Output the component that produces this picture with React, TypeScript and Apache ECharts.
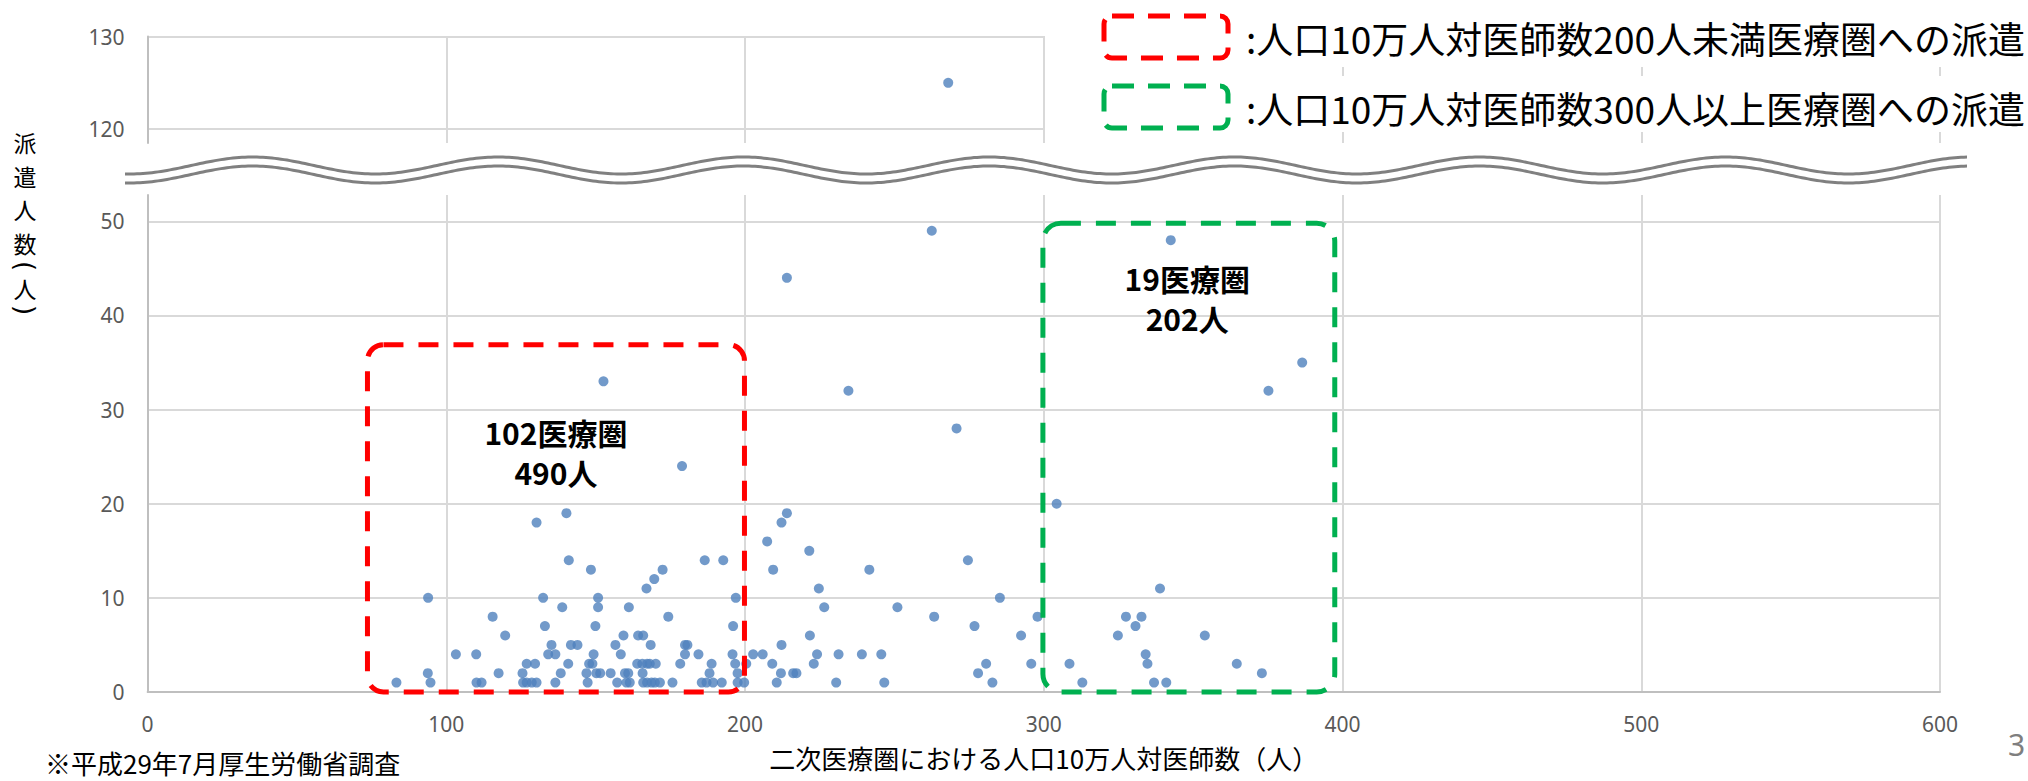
import React, { useEffect, useRef } from "react";
import * as echarts from "echarts";

// ---- axis ticks ----
const X_TICKS = [0, 100, 200, 300, 400, 500, 600];
const LOWER_Y_TICKS = [0, 10, 20, 30, 40, 50];
const UPPER_Y_TICKS = [120, 130];

// ---- data: 派遣人数 (y) and, for each level, the 人口10万人対医師数 (x) of the regions ----
const dispatchLevels = [1, 2, 3, 4, 5, 6, 7, 8, 9, 10, 11, 12, 13, 14, 15, 16, 18, 19, 20, 24, 28, 32, 33, 35, 44, 48, 49, 125];
const doctorRatios: number[][] = [
  [83.3, 94.7, 110.1, 111.8, 125.7, 126.9, 128.6, 130.2, 136.5, 147.3, 157.2, 160.3, 161.4, 165.9, 167.2, 168.7, 169.8, 171.5, 175.7, 185.5, 187.1, 189.3, 192.2, 197.5, 199.7, 210.6, 230.5, 246.6, 282.8, 312.9, 336.9, 341],
  [93.8, 117.5, 125.5, 138.3, 146.9, 150.2, 151.5, 155, 159.8, 160.9, 165.7, 188.1, 197.5, 212, 216.1, 217.2, 278, 373],
  [126.9, 129.7, 140.8, 147.8, 148.9, 163.9, 165.6, 167.2, 168.1, 170.1, 178.3, 188.8, 196.7, 200.4, 209.1, 223, 280.7, 295.8, 308.6, 334.7, 364.6],
  [103.2, 110, 134.1, 136.5, 149.3, 158.4, 179.9, 184.4, 195.8, 202.7, 205.9, 224.1, 231.3, 239.1, 245.6, 334.1],
  [135.2, 141.7, 143.9, 156.6, 168.4, 179.9, 180.7, 212.2],
  [119.7, 159.3, 164.2, 165.9, 221.7, 292.4, 324.8, 353.9],
  [133, 149.9, 196, 276.8, 330.7],
  [115.5, 174.3, 263.3, 297.9, 327.5, 332.7],
  [138.8, 150.8, 161.1, 226.5, 251],
  [93.9, 132.4, 150.8, 196.9, 285.3],
  [167, 224.7, 338.9],
  [169.6],
  [148.4, 172.4, 209.4, 241.6],
  [141, 186.5, 192.7, 274.6],
  [221.5],
  [207.4],
  [130.2, 212.2],
  [140.2, 214],
  [304.3],
  [178.9],
  [270.8],
  [234.6, 375.2],
  [152.6],
  [386.5],
  [214],
  [342.5],
  [262.5],
  [268],
];

// ---- highlighted ranges (data coordinates) ----
const RED_BOX = { x: [73.6, 199.8], y: [0, 36.9] };
const GREEN_BOX = { x: [299.7, 397.4], y: [0, 49.8] };
const RED_LABEL = { x: 136.7, y: 25.5, text: "102医療圏\n490人" };
const GREEN_LABEL = { x: 348, y: 41.9, text: "19医療圏\n202人" };

const LEGEND_ITEMS = [
  { color: "#FF0000", text: ":人口10万人対医師数200人未満医療圏への派遣" },
  { color: "#00B050", text: ":人口10万人対医師数300人以上医療圏への派遣" },
];

const X_TITLE = "二次医療圏における人口10万人対医師数（人）";
// 派遣人数（人） written vertically; brackets drawn as rotated parentheses
const Y_TITLE_CHARS = ["派", "遣", "人", "数", "(", "人", ")"];
const SOURCE_NOTE = "※平成29年7月厚生労働省調査";
const PAGE_NO = "3";

const CJK = '"Noto Sans CJK JP", "Noto Sans", sans-serif';
const NUM = '"Noto Sans", "DejaVu Sans", sans-serif';
const GRID_COLOR = "#d9d9d9";
const AXIS_COLOR = "#bfbfbf";
const LABEL_COLOR = "#595959";
const DOT = "#4F81BD";

const W = 2028;
const H = 781;

export default function App() {
  const ref = useRef<HTMLDivElement>(null);

  useEffect(() => {
    if (!ref.current) return;
    const chart = echarts.init(ref.current, undefined, { renderer: "svg", width: W, height: H });

    const lowData: number[][] = [];
    const highData: number[][] = [];
    dispatchLevels.forEach((lv, i) => {
      doctorRatios[i].forEach((x) => (lv > 100 ? highData : lowData).push([x, lv]));
    });

    const upperMin = 118.5;
    const upperStep = 0.5;
    const upperMax = UPPER_Y_TICKS[UPPER_Y_TICKS.length - 1];
    const nUpper = Math.round((upperMax - upperMin) / upperStep) + 1;
    const upperColors: string[] = [];
    for (let i = 0; i < nUpper; i++) {
      const v = upperMin + i * upperStep;
      upperColors.push(UPPER_Y_TICKS.includes(v) ? GRID_COLOR : "rgba(0,0,0,0)");
    }

    const xCommon = {
      type: "value" as const,
      min: X_TICKS[0],
      max: X_TICKS[X_TICKS.length - 1],
      interval: X_TICKS[1] - X_TICKS[0],
      axisTick: { show: false },
      splitLine: { show: true, lineStyle: { color: GRID_COLOR, width: 2 } },
    };

    chart.setOption({
      animation: false,
      backgroundColor: "#ffffff",
      grid: [
        { left: 147.6, right: 88, top: 36.5, height: 106.5, containLabel: false, outerBoundsMode: "none" },
        { left: 147.6, right: 88, top: 195, height: 497, containLabel: false, outerBoundsMode: "none" },
      ],
      xAxis: [
        {
          ...xCommon,
          gridIndex: 0,
          axisLabel: { show: false },
          axisLine: { show: false },
        },
        {
          ...xCommon,
          gridIndex: 1,
          axisLine: { show: true, lineStyle: { color: AXIS_COLOR, width: 2 } },
          axisLabel: { color: LABEL_COLOR, fontSize: 21, margin: 21, fontFamily: NUM },
          name: X_TITLE,
          nameLocation: "middle",
          nameGap: 52,
          nameTextStyle: { color: "#000", fontSize: 26, fontFamily: CJK },
        },
      ],
      yAxis: [
        {
          type: "value",
          gridIndex: 0,
          min: upperMin,
          max: upperMax,
          interval: upperStep,
          axisTick: { show: false },
          axisLine: { show: true, lineStyle: { color: AXIS_COLOR, width: 2 } },
          axisLabel: {
            color: LABEL_COLOR,
            fontSize: 21,
            margin: 23,
            fontFamily: NUM,
            formatter: (v: number) => (UPPER_Y_TICKS.includes(v) ? String(v) : ""),
          },
          splitLine: { show: true, showMinLine: true, showMaxLine: true, lineStyle: { color: upperColors, width: 2 } },
        },
        {
          type: "value",
          gridIndex: 1,
          min: LOWER_Y_TICKS[0],
          max: 52.8,
          interval: LOWER_Y_TICKS[1] - LOWER_Y_TICKS[0],
          axisTick: { show: false },
          axisLine: { show: true, lineStyle: { color: AXIS_COLOR, width: 2 } },
          axisLabel: {
            color: LABEL_COLOR,
            fontSize: 21,
            margin: 23,
            fontFamily: NUM,
            showMaxLabel: false,
            formatter: (v: number) => (LOWER_Y_TICKS.includes(v) ? String(v) : ""),
          },
          splitLine: { show: true, showMaxLine: false, lineStyle: { color: GRID_COLOR, width: 2 } },
        },
      ],
      series: [
        {
          type: "scatter",
          xAxisIndex: 0,
          yAxisIndex: 0,
          data: highData,
          symbolSize: 10,
          itemStyle: { color: DOT },
          z: 3,
        },
        {
          type: "scatter",
          xAxisIndex: 1,
          yAxisIndex: 1,
          data: lowData,
          symbolSize: 10,
          itemStyle: { color: DOT },
          z: 3,
        },
      ],
    });

    const toPx = (p: number[]) => chart.convertToPixel({ gridIndex: 1 }, p) as number[];

    const boxGraphic = (b: { x: number[]; y: number[] }, color: string, r: number) => {
      const p0 = toPx([b.x[0], b.y[1]]);
      const p1 = toPx([b.x[1], b.y[0]]);
      return {
        type: "rect",
        z: 20,
        shape: { x: p0[0], y: p0[1], width: p1[0] - p0[0], height: p1[1] - p0[1], r },
        style: { fill: "none", stroke: color, lineWidth: 5, lineDash: [20, 15] },
      };
    };
    const labelGraphic = (l: { x: number; y: number; text: string }) => {
      const p = toPx([l.x, l.y]);
      return {
        type: "text",
        z: 21,
        x: p[0],
        y: p[1],
        style: {
          text: l.text,
          fill: "#000",
          font: `bold 30px ${CJK}`,
          align: "center",
          verticalAlign: "middle",
          lineHeight: 40,
        },
      };
    };

    // wavy break lines
    const wave = (c: number) => {
      const pts: number[][] = [];
      for (let x = 125; x <= 1968; x += 3) {
        pts.push([x, c - 8.5 * Math.cos((2 * Math.PI * (x - 252.5)) / 245.5)]);
      }
      return {
        type: "polyline",
        z: 30,
        shape: { points: pts, smooth: 0 },
        style: { fill: "none", stroke: "#808080", lineWidth: 3 },
      };
    };

    const legendGraphics: any[] = [
      { type: "rect", z: 40, shape: { x: 1045, y: 0, width: W - 1045, height: 67 }, style: { fill: "#fff" } },
      { type: "rect", z: 40, shape: { x: 1045, y: 76, width: W - 1045, height: 56 }, style: { fill: "#fff" } },
    ];
    LEGEND_ITEMS.forEach((it, i) => {
      const top = i === 0 ? 16 : 86;
      legendGraphics.push({
        type: "rect",
        z: 41,
        shape: { x: 1104, y: top, width: 124, height: 42, r: 8 },
        style: { fill: "none", stroke: it.color, lineWidth: 5, lineDash: [22, 14] },
      });
      legendGraphics.push({
        type: "text",
        z: 41,
        x: 1246,
        y: top + 22,
        style: { text: it.text, fill: "#000", font: `37px ${CJK}`, align: "left", verticalAlign: "middle" },
      });
    });

    // vertical y-axis title, one character per element
    const yTitleY = [142, 175.5, 209, 242.5, 266, 288, 310];
    const yTitle = Y_TITLE_CHARS.map((ch, i) => {
      const isBracket = ch === "(" || ch === ")";
      return {
        type: "text",
        z: 20,
        x: 25,
        y: yTitleY[i],
        rotation: isBracket ? -Math.PI / 2 : 0,
        style: {
          text: ch,
          fill: "#000",
          font: isBracket ? `26px "DejaVu Sans", sans-serif` : `23px ${CJK}`,
          align: "center",
          verticalAlign: "middle",
        },
      };
    });

    chart.setOption({
      graphic: [
        boxGraphic(RED_BOX, "#FF0000", 16),
        boxGraphic(GREEN_BOX, "#00B050", 18),
        labelGraphic(RED_LABEL),
        labelGraphic(GREEN_LABEL),
        wave(165.5),
        wave(174.5),
        ...legendGraphics,
        ...yTitle,
        {
          type: "text",
          z: 20,
          x: 45,
          y: 762,
          style: { text: SOURCE_NOTE, fill: "#000", font: `26px ${CJK}`, align: "left", verticalAlign: "middle" },
        },
        {
          type: "text",
          z: 20,
          x: 2008,
          y: 744,
          style: { text: PAGE_NO, fill: "#7f7f7f", font: `30px ${NUM}`, align: "left", verticalAlign: "middle" },
        },
      ],
    });

    return () => chart.dispose();
  }, []);

  return <div ref={ref} style={{ position: "absolute", left: 0, top: 0, width: W, height: H }} />;
}
